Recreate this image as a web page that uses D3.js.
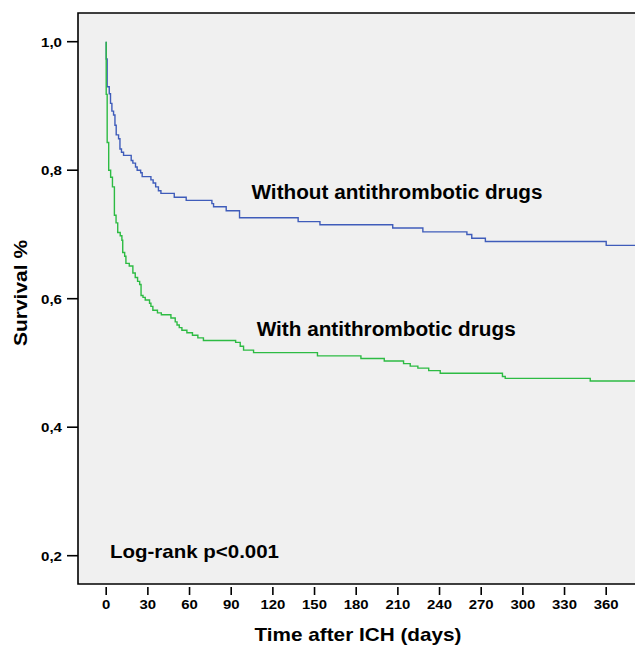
<!DOCTYPE html>
<html>
<head>
<meta charset="utf-8">
<script src="https://cdn.jsdelivr.net/npm/d3@7"></script>
<style>
  html, body { margin: 0; padding: 0; background: #ffffff; }
  svg { display: block; }
  text { font-family: "Liberation Sans", Arial, sans-serif; font-weight: bold; fill: #000; }
</style>
</head>
<body>
<svg id="chart" width="635" height="646"></svg>
<script>
// ---------- data ----------
const xTicks = [0, 30, 60, 90, 120, 150, 180, 210, 240, 270, 300, 330, 360];
const yTicks = [0.2, 0.4, 0.6, 0.8, 1.0];
const yTickLabels = ["0,2", "0,4", "0,6", "0,8", "1,0"];

// Without antithrombotic drugs (blue) – step times (days) and survival after each step
const withoutTimes = [0, 0, 0.7, 2.2, 3.1, 4.1, 5.3, 6.3, 7.2, 8.9, 9.9, 11.0, 12.5, 18.0, 19.2, 21.1, 22.3, 24.8, 25.9, 32.2, 33.8, 35.6, 37.6, 39.4, 49.0, 57.6, 76.1, 77.3, 86.4, 96.0, 138.2, 153.9, 206.3, 228.0, 259.7, 263.2, 273.0, 360.0];
const withoutSurv = [1.0, 0.973, 0.930, 0.919, 0.904, 0.892, 0.886, 0.870, 0.855, 0.849, 0.833, 0.828, 0.823, 0.815, 0.811, 0.805, 0.800, 0.796, 0.790, 0.785, 0.780, 0.774, 0.768, 0.764, 0.758, 0.753, 0.748, 0.743, 0.737, 0.726, 0.720, 0.715, 0.710, 0.704, 0.700, 0.694, 0.689, 0.683];

// With antithrombotic drugs (green)
const withTimes = [0, 0, 0.7, 1.8, 3.2, 4.5, 5.9, 7.1, 8.3, 10.1, 11.3, 11.9, 13.3, 14.2, 16.6, 19.2, 20.9, 22.6, 24.1, 25.1, 26.5, 28.1, 31.2, 32.2, 33.6, 36.9, 39.7, 46.6, 49.7, 51.0, 52.6, 54.5, 58.1, 62.1, 66.0, 70.0, 93.2, 96.5, 98.9, 106.1, 152.1, 183.4, 200.2, 214.1, 218.9, 224.4, 232.2, 240.5, 285.3, 287.3, 348.5];
const withSurv = [1.0, 0.918, 0.843, 0.800, 0.789, 0.774, 0.730, 0.718, 0.703, 0.698, 0.691, 0.672, 0.666, 0.655, 0.651, 0.640, 0.633, 0.627, 0.622, 0.605, 0.602, 0.598, 0.593, 0.588, 0.582, 0.578, 0.575, 0.570, 0.564, 0.559, 0.555, 0.551, 0.547, 0.543, 0.539, 0.535, 0.532, 0.526, 0.520, 0.516, 0.511, 0.507, 0.503, 0.499, 0.495, 0.492, 0.488, 0.484, 0.479, 0.476, 0.472];

const seriesNames = ["Without antithrombotic drugs", "With antithrombotic drugs"];
const annotation = "Log-rank p<0.001";
const xTitle = "Time after ICH (days)";
const yTitle = "Survival %";

// ---------- layout ----------
const plot = { left: 78, top: 13, right: 635, bottom: 584 };
const svg = d3.select("#chart");

const x = d3.scaleLinear().domain([0, 360]).range([106.2, 606.2]);
const y = d3.scaleLinear().domain([0.2, 1.0]).range([555.7, 41.7]);
const xMax = x.invert(plot.right);

svg.append("rect")
  .attr("x", plot.left).attr("y", plot.top)
  .attr("width", plot.right - plot.left).attr("height", plot.bottom - plot.top)
  .attr("fill", "#f0f0f0");

svg.append("clipPath").attr("id", "clip")
  .append("rect")
  .attr("x", plot.left).attr("y", plot.top)
  .attr("width", plot.right - plot.left).attr("height", plot.bottom - plot.top);

const line = d3.line().x(d => x(d[0])).y(d => y(d[1])).curve(d3.curveStepAfter);

function buildSeries(times, surv) {
  const pts = times.map((t, i) => [t, surv[i]]);
  pts.push([xMax, surv[surv.length - 1]]);
  return pts;
}

const g = svg.append("g").attr("clip-path", "url(#clip)");
g.append("path")
  .attr("d", line(buildSeries(withoutTimes, withoutSurv)))
  .attr("fill", "none").attr("stroke", "#3f5cba").attr("stroke-width", 1.4);
g.append("path")
  .attr("d", line(buildSeries(withTimes, withSurv)))
  .attr("fill", "none").attr("stroke", "#2dbb43").attr("stroke-width", 1.4);

svg.append("path")
  .attr("d", `M${plot.right},${plot.top}H${plot.left}V${plot.bottom}H${plot.right}`)
  .attr("fill", "none").attr("stroke", "#000").attr("stroke-width", 1.6);

yTicks.forEach((v, i) => {
  svg.append("line")
    .attr("x1", 67).attr("x2", plot.left).attr("y1", y(v)).attr("y2", y(v))
    .attr("stroke", "#000").attr("stroke-width", 1.6);
  svg.append("text")
    .attr("x", 62).attr("y", y(v) + 5)
    .attr("text-anchor", "end")
    .attr("font-size", 13.5)
    .attr("textLength", 21).attr("lengthAdjust", "spacingAndGlyphs")
    .text(yTickLabels[i]);
});

xTicks.forEach(v => {
  svg.append("line")
    .attr("x1", x(v)).attr("x2", x(v)).attr("y1", 587).attr("y2", 595)
    .attr("stroke", "#000").attr("stroke-width", 1.6);
  const s = String(v);
  svg.append("text")
    .attr("x", x(v)).attr("y", 609)
    .attr("text-anchor", "middle")
    .attr("font-size", 13.5)
    .attr("textLength", 8.3 * s.length).attr("lengthAdjust", "spacingAndGlyphs")
    .text(s);
});

svg.append("text")
  .attr("x", 358).attr("y", 640.5)
  .attr("text-anchor", "middle").attr("font-size", 19)
  .attr("textLength", 207).attr("lengthAdjust", "spacingAndGlyphs")
  .text(xTitle);

svg.append("text")
  .attr("transform", "translate(27,293) rotate(-90)")
  .attr("text-anchor", "middle").attr("font-size", 19)
  .attr("textLength", 106).attr("lengthAdjust", "spacingAndGlyphs")
  .text(yTitle);

svg.append("text")
  .attr("x", 251.5).attr("y", 199)
  .attr("font-size", 19.5)
  .attr("textLength", 291).attr("lengthAdjust", "spacingAndGlyphs")
  .text(seriesNames[0]);
svg.append("text")
  .attr("x", 256.7).attr("y", 335.5)
  .attr("font-size", 19.5)
  .attr("textLength", 259).attr("lengthAdjust", "spacingAndGlyphs")
  .text(seriesNames[1]);

svg.append("text")
  .attr("x", 110).attr("y", 557.5)
  .attr("font-size", 19)
  .attr("textLength", 169).attr("lengthAdjust", "spacingAndGlyphs")
  .text(annotation);
</script>
</body>
</html>
